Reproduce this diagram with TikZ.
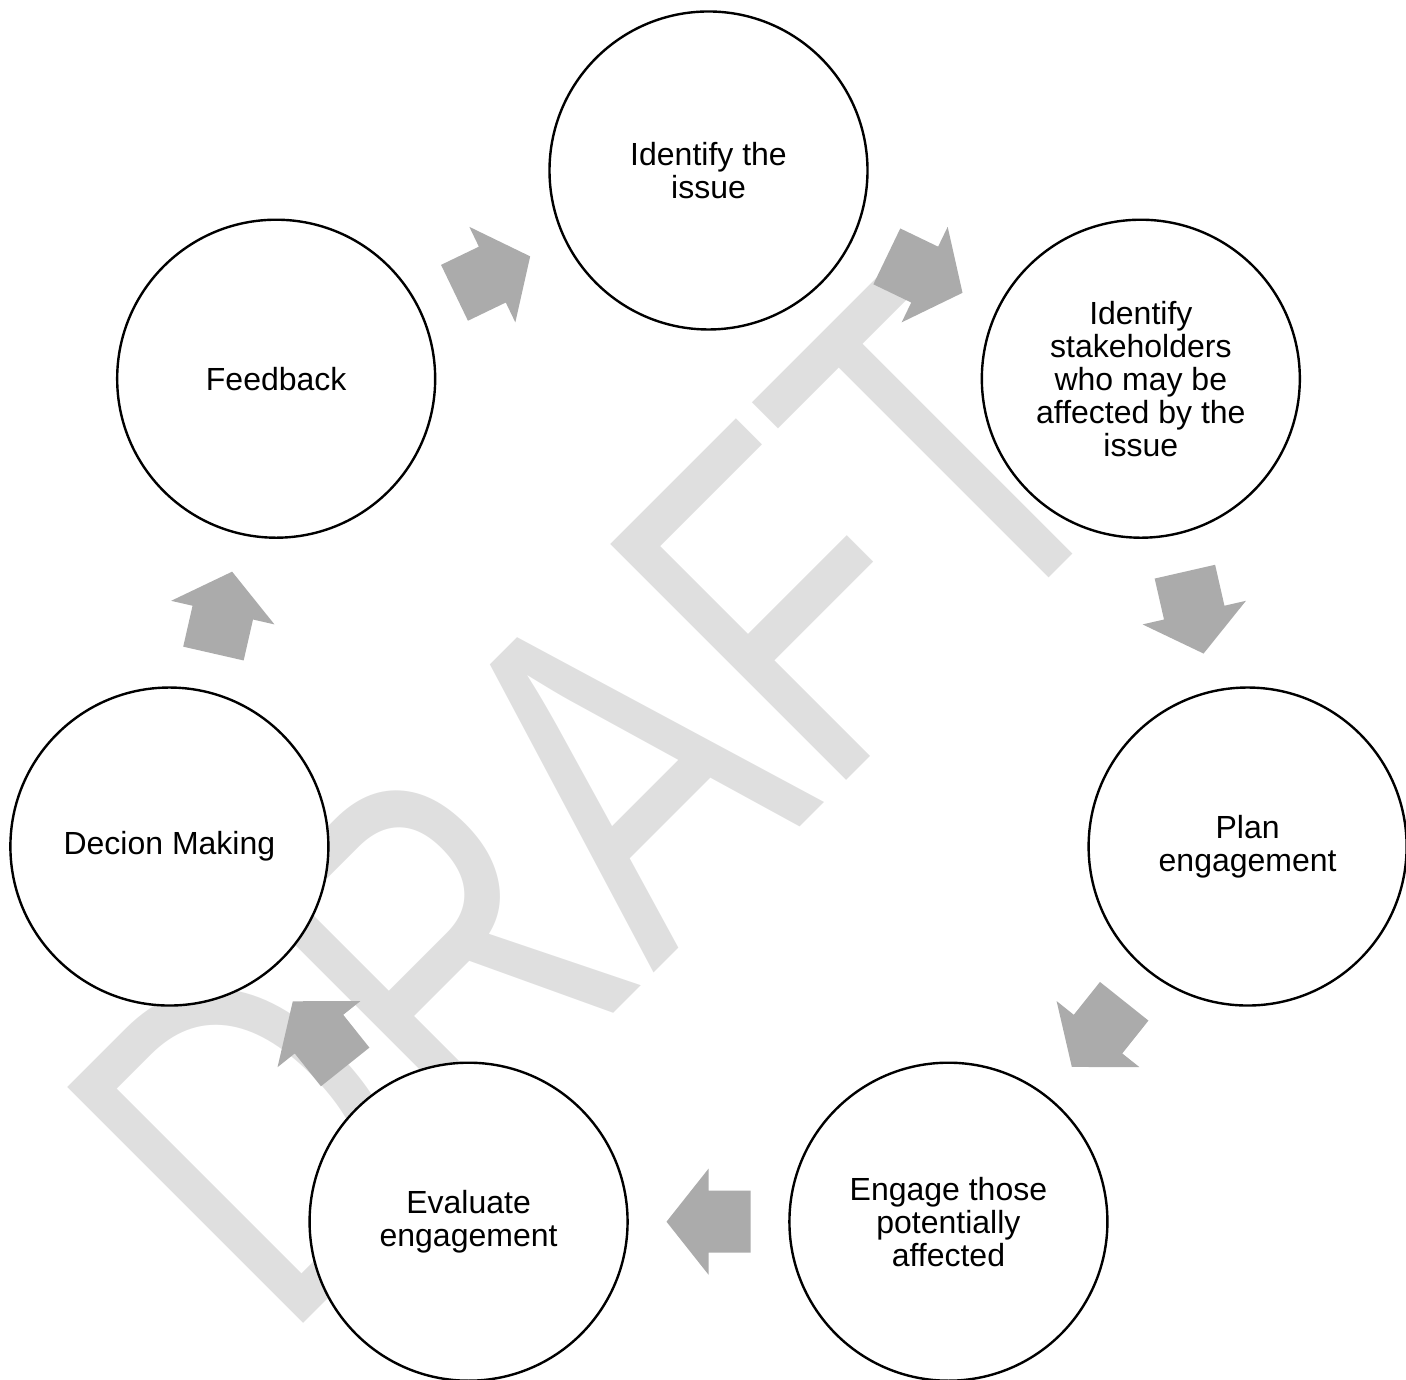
\documentclass[tikz,border=0pt]{standalone}
\usepackage{fontspec}
\setmainfont{Liberation Sans}
\usetikzlibrary{calc}
\definecolor{arrowgray}{RGB}{171,171,171}
\definecolor{wmgray}{RGB}{223,223,223}
\newcommand\cyclearrow[2]{%
  \fill[arrowgray] let \p1=($(#2)-(#1)$), \n1={atan2(\y1,\x1)}, \p2=($(#1)!0.5!(#2)$) in
    ($(\p2)+({\n1+180}:42)+({\n1+90}:31)$) -- ($(\p2)+({\n1+90}:31)$) --
    ($(\p2)+({\n1+90}:53)$) -- ($(\p2)+(\n1:42)$) -- ($(\p2)+({\n1-90}:53)$) --
    ($(\p2)+({\n1-90}:31)$) -- ($(\p2)+({\n1+180}:42)+({\n1-90}:31)$) -- cycle;}
\begin{document}
\begin{tikzpicture}[x=1pt,y=1pt,
  circ/.style={circle, draw=black, line width=2.4pt, fill=white, minimum size=318pt,
    inner sep=0pt, align=center, font=\fontsize{32}{33}\selectfont},
  wm/.style={anchor=base west, rotate=45, inner sep=0pt, text=wmgray,
    font=\fontsize{485}{485}\selectfont}]
\useasboundingbox (0,0) rectangle (1406,1380);
\clip (0,0) rectangle (1406,1380);
\node[wm] (wm) at (282,35) {\scalebox{0.75}[1]{DRAFT}};
\coordinate (ctr) at (708.5,656.5);
\node[circ] (n0) at ($(ctr)+(90:553)$) {Identify the\\issue};
\node[circ] (n1) at ($(ctr)+({90-360/7}:553)$) {Identify\\stakeholders\\who may be\\affected by the\\issue};
\node[circ] (n2) at ($(ctr)+({90-2*360/7}:553)$) {Plan\\engagement};
\node[circ] (n3) at ($(ctr)+({90-3*360/7}:553)$) {Engage those\\potentially\\affected};
\node[circ] (n4) at ($(ctr)+({90-4*360/7}:553)$) {Evaluate\\engagement};
\node[circ] (n5) at ($(ctr)+({90-5*360/7}:553)$) {Decion Making};
\node[circ] (n6) at ($(ctr)+({90-6*360/7}:553)$) {Feedback};
\cyclearrow{n0}{n1}
\cyclearrow{n1}{n2}
\cyclearrow{n2}{n3}
\cyclearrow{n3}{n4}
\cyclearrow{n4}{n5}
\cyclearrow{n5}{n6}
\cyclearrow{n6}{n0}
\end{tikzpicture}
\end{document}
